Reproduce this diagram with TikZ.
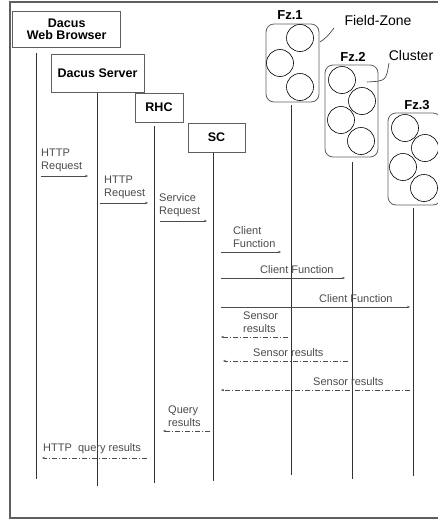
\documentclass[tikz,border=0pt]{standalone}
\usepackage{fontspec}
\setmainfont{Liberation Sans}
\usetikzlibrary{arrows.meta}
\definecolor{LineGray}{RGB}{50,50,50}
\definecolor{MsgGray}{RGB}{75,75,75}
\definecolor{FrameGray}{RGB}{95,95,95}

\begin{document}
\begin{tikzpicture}[
    x=1pt, y=-1pt, % pixel-like grid, y pointing down
    >={Stealth[length=3pt, width=2.4pt]},
    actor/.style={draw=FrameGray, line width=0.8pt, align=center, inner sep=0pt,
        font=\bfseries\fontsize{12.5}{12}\selectfont},
    zone/.style={draw=FrameGray, line width=0.8pt, rounded corners=8pt, inner sep=0pt},
    cluster/.style={circle, draw=black, line width=0.6pt, minimum size=27pt, inner sep=0pt},
    zonelabel/.style={font=\bfseries\fontsize{13}{14}\selectfont, inner sep=0pt},
    annot/.style={font=\fontsize{14}{15}\selectfont, inner sep=0pt},
    leader/.style={LineGray, line width=0.6pt},
    lifeline/.style={LineGray, line width=0.9pt},
    call/.style={->, MsgGray, line width=0.6pt},
    reply/.style={->, MsgGray, line width=0.6pt, dash pattern=on 5pt off 2pt on 1pt off 2pt},
    msg/.style={MsgGray, font=\fontsize{11}{13}\selectfont, align=left, inner sep=0pt}
]

\useasboundingbox (0,0) rectangle (438,520);

% --- Outer frame (runs past the right edge) ---
\draw[FrameGray, line width=1.2pt] (10,2) rectangle (450,518);

% --- Actor boxes ---
\node[actor, minimum width=108pt, minimum height=36pt] (browser) at (66.7,29.5) {Dacus\\Web Browser};
\node[actor, minimum width=93pt, minimum height=38pt] (server) at (97.5,73) {Dacus Server};
\node[actor, minimum width=48pt, minimum height=29pt] (rhc) at (159,107.5) {RHC};
\node[actor, minimum width=57pt, minimum height=29pt] (sc) at (216.5,137.5) {SC};

% --- Field-Zones with their clusters ---
\node[zone, minimum width=53pt, minimum height=78pt] (fz1) at (292.5,63) {};
\node[zone, minimum width=53pt, minimum height=92pt] (fz2) at (351.5,111) {};
\node[zone, minimum width=53pt, minimum height=92pt] (fz3) at (414.5,159) {};

\foreach \name/\cx/\cy in {a1/300/38, a2/280/63, a3/300/87,
    b1/342/80, b2/362/101, b3/341/120, b4/361/141,
    c1/405/128, c2/425/148, c3/403/167, c4/424/188}
{
    \node[cluster] (cl-\name) at (\cx,\cy) {};
}

\node[zonelabel] (fz1-label) at (290,15) {Fz.1};
\node[zonelabel] (fz2-label) at (353,57) {Fz.2};
\node[zonelabel] (fz3-label) at (417,105) {Fz.3};

% --- Callouts ---
\node[annot] (fieldzone) at (378,20) {Field-Zone};
\node[annot] (clusterlabel) at (411,55) {Cluster};
\coordinate (fz-tip) at (320,42);
\coordinate (fz-end) at (334,28);
\coordinate (cl-tip) at (367,82);
\coordinate (cl-end) at (389,63);
\draw[leader] (fz-tip) .. controls (327,37) .. (fz-end);
\draw[leader] (cl-tip) .. controls (386,81) .. (cl-end);

% --- Lifelines ---
\foreach \name/\x/\ytop/\ybot in {br/36/53/479, sv/97/93/486, rh/154/126/483,
    sc/213/153/481, f1/291/105/475, f2/352/162/479, f3/413/208/476}
{
    \coordinate (\name-top) at (\x,\ytop);
    \coordinate (\name-bot) at (\x,\ybot);
    \draw[lifeline] (\name-top) -- (\name-bot);
}

% --- Messages ---
\foreach \n/\xa/\xb/\y/\kind in {1/41/88/176/call, 2/100/148/203/call, 3/160/207/221/call,
    4/221/281/252/call, 5/221/345/278/call, 6/221/410/307/call,
    7/288/221/337/reply, 8/348/223/361/reply, 9/410/221/390/reply,
    10/210/163/431/reply, 11/147/42/458/reply}
{
    \coordinate (m\n-a) at (\xa,\y);
    \coordinate (m\n-b) at (\xb,\y);
    \draw[\kind] (m\n-a) -- (m\n-b);
}

% --- Message labels (bottom left corner just above the arrow) ---
\foreach \n/\x/\y/\txt in {1/41/172/{HTTP\\Request}, 2/104/199/{HTTP\\Request},
    3/159/217/{Service\\Request}, 4/233/248/{Client\\Function},
    5/260/274/{Client Function}, 6/319/303/{Client Function},
    7/243/333/{Sensor\\results}, 8/253/357/{Sensor results},
    9/313/386/{Sensor results}, 10/168/427/{Query\\results},
    11/43/454/{HTTP\ \ query results}}
{
    \node[msg, anchor=south west] (l\n) at (\x,\y) {\txt};
}

\end{tikzpicture}
\end{document}
